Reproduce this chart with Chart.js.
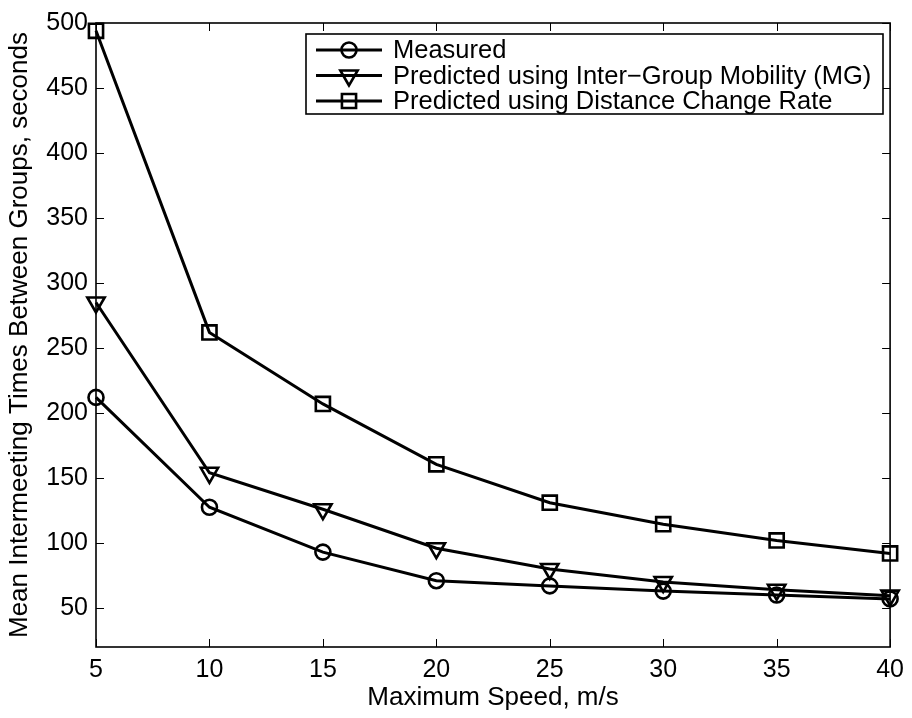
<!DOCTYPE html>
<html>
<head>
<meta charset="utf-8">
<script src="https://cdn.jsdelivr.net/npm/chart.js@4/dist/chart.umd.min.js"></script>
<style>
html,body{margin:0;padding:0;background:#fff;}
#wrap{width:912px;height:718px;position:relative;}
</style>
</head>
<body>
<div id="wrap"><canvas id="c" width="912" height="718"></canvas></div>
<script>
// ---- data ----
const speeds = [5, 10, 15, 20, 25, 30, 35, 40];
const measured = [212, 127.5, 93, 71, 67, 63, 60, 57];
const predictedMG = [285, 154, 126, 96, 80, 70, 64, 59.5];
const predictedDCR = [494, 262, 207, 160.5, 131, 114.5, 102, 92];
const seriesNames = ['Measured', 'Predicted using Inter\u2212Group Mobility (MG)', 'Predicted using Distance Change Rate'];
const xTicks = [5, 10, 15, 20, 25, 30, 35, 40];
const yTicks = [50, 100, 150, 200, 250, 300, 350, 400, 450, 500];
const xTitle = 'Maximum Speed, m/s';
const yTitle = 'Mean Intermeeting Times Between Groups, seconds';

// ---- styles ----
const FONT = "'Liberation Sans', Arial, Helvetica, sans-serif";
const markers = [
  {pointStyle: 'circle', radius: 7.5, rotation: 0},
  {pointStyle: 'triangle', radius: 10, rotation: 180},
  {pointStyle: 'rect', radius: 10, rotation: 0}
];
const seriesValues = [measured, predictedMG, predictedDCR];
const LINE_W = 3;
const MARK_W = 2.6;

const datasets = seriesValues.map((vals, i) => ({
  label: seriesNames[i],
  data: speeds.map((s, j) => ({x: s, y: vals[j]})),
  borderColor: '#000',
  backgroundColor: 'rgba(0,0,0,0)',
  borderWidth: LINE_W,
  tension: 0,
  fill: false,
  clip: false,
  pointStyle: markers[i].pointStyle,
  pointRadius: markers[i].radius,
  pointRotation: markers[i].rotation,
  pointBorderWidth: MARK_W,
  pointBorderColor: '#000',
  pointBackgroundColor: 'rgba(0,0,0,0)',
  pointHoverRadius: markers[i].radius
}));

const framePlugin = {
  id: 'frame',
  afterDatasetsDraw(chart) {
    const ctx = chart.ctx, ca = chart.chartArea;
    const xs = chart.scales.x, ys = chart.scales.y;
    const tl = 8;
    ctx.save();
    ctx.strokeStyle = '#000';
    ctx.lineWidth = 1.6;
    ctx.strokeRect(ca.left, ca.top, ca.right - ca.left, ca.bottom - ca.top);
    ctx.lineWidth = 1;
    ctx.beginPath();
    xTicks.forEach(v => {
      const px = Math.round(xs.getPixelForValue(v)) + 0.5;
      ctx.moveTo(px, ca.bottom); ctx.lineTo(px, ca.bottom - tl);
      ctx.moveTo(px, ca.top); ctx.lineTo(px, ca.top + tl);
    });
    yTicks.forEach(v => {
      const py = Math.round(ys.getPixelForValue(v)) + 0.5;
      ctx.moveTo(ca.left, py); ctx.lineTo(ca.left + tl, py);
      ctx.moveTo(ca.right, py); ctx.lineTo(ca.right - tl, py);
    });
    ctx.stroke();
    ctx.restore();
  },
  afterDraw(chart) {
    const ctx = chart.ctx;
    const box = {l: 306, t: 34, r: 883, b: 114};
    const rows = [50, 75.5, 101];
    ctx.save();
    ctx.fillStyle = '#fff';
    ctx.fillRect(box.l, box.t, box.r - box.l, box.b - box.t);
    ctx.strokeStyle = '#000';
    ctx.lineWidth = 1.6;
    ctx.strokeRect(box.l, box.t, box.r - box.l, box.b - box.t);
    seriesNames.forEach((name, i) => {
      const y = rows[i];
      ctx.strokeStyle = '#000';
      ctx.lineWidth = LINE_W;
      ctx.beginPath();
      ctx.moveTo(316, y); ctx.lineTo(382, y);
      ctx.stroke();
      ctx.fillStyle = 'rgba(0,0,0,0)';
      ctx.lineWidth = MARK_W;
      Chart.helpers.drawPoint(ctx, {
        pointStyle: markers[i].pointStyle,
        radius: markers[i].radius,
        rotation: markers[i].rotation,
        borderWidth: MARK_W
      }, 349, y);
      ctx.fillStyle = '#000';
      ctx.font = '25.5px ' + FONT;
      ctx.textBaseline = 'middle';
      ctx.textAlign = 'left';
      ctx.fillText(name, 393, y + 1);
    });
    ctx.restore();
  }
};

new Chart(document.getElementById('c'), {
  type: 'line',
  data: {datasets},
  options: {
    responsive: false,
    animation: false,
    devicePixelRatio: 1,
    layout: {padding: {top: 21, right: 18, left: 0, bottom: 0}},
    plugins: {legend: {display: false}, tooltip: {enabled: false}},
    scales: {
      x: {
        type: 'linear', min: 5, max: 40,
        afterBuildTicks: s => { s.ticks = xTicks.map(v => ({value: v})); },
        afterFit: s => { s.height = 71; },
        grid: {display: false, drawTicks: false},
        border: {display: false},
        ticks: {color: '#000', font: {family: FONT, size: 25}, padding: 8, maxRotation: 0, autoSkip: false},
        title: {display: true, text: xTitle, color: '#000', font: {family: FONT, size: 26, lineHeight: 1.2}, padding: {top: 0, bottom: 5}}
      },
      y: {
        type: 'linear', min: 20, max: 500,
        afterBuildTicks: s => { s.ticks = yTicks.map(v => ({value: v})); },
        afterFit: s => { s.width = 96; },
        grid: {display: false, drawTicks: false},
        border: {display: false},
        ticks: {color: '#000', font: {family: FONT, size: 25}, padding: 8, autoSkip: false},
        title: {display: true, text: yTitle, color: '#000', font: {family: FONT, size: 26, lineHeight: 1.2}, padding: {top: 4, bottom: 0}}
      }
    }
  },
  plugins: [framePlugin]
});
</script>
</body>
</html>
